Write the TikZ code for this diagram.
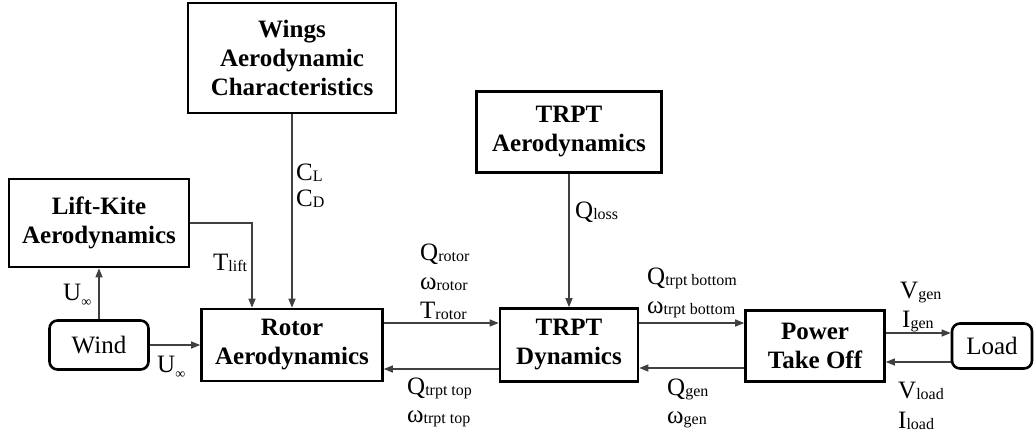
\documentclass[tikz,border=0pt]{standalone}
\usepackage{fontspec}
\setmainfont{Liberation Serif}
\usepackage{tikz}
\usetikzlibrary{positioning, arrows.meta}

\newcommand{\sbs}[1]{\raisebox{-1.5pt}{\fontsize{16}{16}\selectfont #1}}
\newcommand{\infsub}{\raisebox{-6pt}{\fontsize{14}{14}\selectfont ∞}}

\begin{document}
\begin{tikzpicture}[x=1pt, y=-1pt,
    block/.style={draw, line width=2.6pt, inner sep=0pt, align=center, font=\fontsize{25}{29}\selectfont\bfseries},
    term/.style={draw, line width=2.6pt, rounded corners=8pt, inner sep=0pt, font=\fontsize{25}{29}\selectfont},
    flow/.style={draw=black!75, line width=1.3pt, -{Triangle[length=9pt, width=7pt]}},
    lbl/.style={anchor=base west, inner sep=0pt, font=\fontsize{25}{29}\selectfont}]
    \useasboundingbox (0,0) rectangle (1035,434);

    % blocks
    \node[block, minimum width=208pt, minimum height=110pt] (wings) at (292,58) {Wings\\Aerodynamic\\Characteristics};
    \node[block, minimum width=185pt, minimum height=81pt] (trptaero) at (569,132) {TRPT\\Aerodynamics};
    \node[block, minimum width=180pt, minimum height=88pt] (liftkite) at (99,223) {Lift-Kite\\Aerodynamics};
    \node[term, minimum width=99pt, minimum height=49pt] (wind) at (99,345) {Wind};
    \node[block, minimum width=181pt, minimum height=72pt] (rotor) at (292,345) {Rotor\\Aerodynamics};
    \node[block, minimum width=138pt, minimum height=73pt] (trptdyn) at (569,345) {TRPT\\Dynamics};
    \node[block, minimum width=139pt, minimum height=71pt] (pto) at (815,346) {Power\\Take Off};
    \node[term, minimum width=80pt, minimum height=45pt] (load) at (992,346) {Load};

    % connectors
    \draw[flow] (wind) -- (liftkite);
    \draw[flow] (wind.east) -- (wind.east -| rotor.west);
    \draw[flow] (liftkite.east) -| ([xshift=-40pt]rotor.north);
    \draw[flow] (wings) -- (rotor);
    \draw[flow] (trptaero) -- (trptdyn);
    \draw[flow] ([yshift=22pt]rotor.east) -- ([yshift=22pt]rotor.east -| trptdyn.west);
    \draw[flow] ([yshift=-24pt]trptdyn.west) -- ([yshift=-24pt]trptdyn.west -| rotor.east);
    \draw[flow] ([yshift=22pt]trptdyn.east) -- ([yshift=22pt]trptdyn.east -| pto.west);
    \draw[flow] ([yshift=-22pt]pto.west) -- ([yshift=-22pt]pto.west -| trptdyn.east);
    \draw[flow] ([yshift=13pt]pto.east) -- ([yshift=13pt]pto.east -| load.west);
    \draw[flow] ([yshift=-16pt]load.west) -- ([yshift=-16pt]load.west -| pto.east);

    % signal labels
    \node[lbl] (uinfa) at (63,300) {U\infsub};
    \node[lbl] (uinfb) at (157,372) {U\infsub};
    \node[lbl] (tlift) at (213,270) {T\sbs{lift}};
    \node[lbl] (cl) at (296,180) {C\sbs{L}};
    \node[lbl] (cd) at (296,206) {C\sbs{D}};
    \node[lbl] (qloss) at (575,218) {Q\sbs{loss}};
    \node[lbl] (qrotor) at (420,260) {Q\sbs{rotor}};
    \node[lbl] (wrotor) at (420,289) {ω\sbs{rotor}};
    \node[lbl] (trotor) at (420,318) {T\sbs{rotor}};
    \node[lbl] (qtop) at (407,394) {Q\sbs{trpt top}};
    \node[lbl] (wtop) at (407,422) {ω\sbs{trpt top}};
    \node[lbl] (qbot) at (647,284) {Q\sbs{trpt bottom}};
    \node[lbl] (wbot) at (647,313) {ω\sbs{trpt bottom}};
    \node[lbl] (qgen) at (667,395) {Q\sbs{gen}};
    \node[lbl] (wgen) at (667,423) {ω\sbs{gen}};
    \node[lbl] (vgen) at (900,298) {V\sbs{gen}};
    \node[lbl] (igen) at (902,327) {I\sbs{gen}};
    \node[lbl] (vload) at (898,398) {V\sbs{load}};
    \node[lbl] (iload) at (898,428) {I\sbs{load}};
\end{tikzpicture}
\end{document}
